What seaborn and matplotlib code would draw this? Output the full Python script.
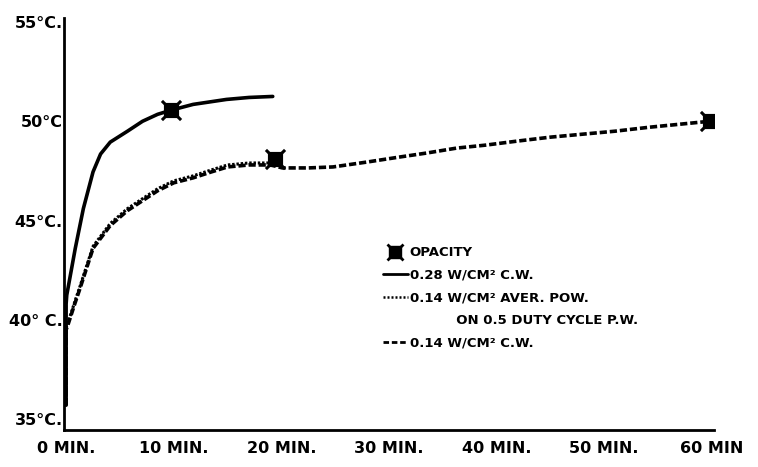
import numpy as np
import pandas as pd
import matplotlib
matplotlib.use("Agg")
import matplotlib.pyplot as plt
import seaborn as sns
from matplotlib.lines import Line2D

# curve readings (minutes, deg C)
t_cw028 = [0, 0, 0.06, 0.85, 1.6, 2.5, 3.2, 4.1, 5.7, 7.1, 8.5, 9.7, 11.8, 14.9, 17.0, 19.2]
T_cw028 = [35.7, 40.8, 41.25, 43.6, 45.6, 47.45, 48.35, 48.95, 49.5, 50.0, 50.35, 50.55,
           50.85, 51.1, 51.2, 51.25]

t_pw014 = [0, 0, 0.2, 0.8, 1.3, 2.5, 4.1, 5.7, 7.1, 8.5, 10.0, 11.8, 13.5, 15.0, 17.0, 19.4]
T_pw014 = [35.7, 39.6, 39.9, 40.9, 41.7, 43.7, 44.85, 45.6, 46.1, 46.6, 47.0, 47.25,
           47.55, 47.8, 47.9, 47.9]

t_cw014 = [0, 0, 0.2, 0.8, 1.3, 2.5, 4.1, 5.7, 7.1, 8.5, 10.0, 11.8, 13.5, 15.0, 17.0,
           19.0, 20.1, 22.5, 24.8, 28.0, 31.0, 33.5, 36.3, 39.0, 41.9, 45.0, 48.0, 51.0,
           54.2, 57.0, 59.8]
T_cw014 = [35.7, 39.5, 39.8, 40.8, 41.6, 43.6, 44.75, 45.5, 46.0, 46.5, 46.9, 47.15,
           47.45, 47.7, 47.8, 47.8, 47.65, 47.65, 47.7, 47.95, 48.2, 48.4, 48.65, 48.8,
           49.0, 49.2, 49.35, 49.5, 49.7, 49.85, 50.0]

opacity_t = [9.7, 19.4, 59.8]
opacity_T = [50.55, 48.1, 50.0]

x_ticks = [0, 10, 20, 30, 40, 50, 60]
x_labels = ["0 MIN.", "10 MIN.", "20 MIN.", "30 MIN.", "40 MIN.", "50 MIN.", "60 MIN"]
y_ticks = [35, 40, 45, 50, 55]
y_labels = ["35°C.", "40° C.", "45°C.", "50°C", "55°C."]

sns.set_style("white")
plt.rcParams["font.family"] = ["DejaVu Sans"]
plt.rcParams["font.weight"] = "bold"
plt.rcParams["text.color"] = "black"
plt.rcParams["xtick.color"] = "black"
plt.rcParams["ytick.color"] = "black"
plt.rcParams["lines.solid_joinstyle"] = "round"
plt.rcParams["lines.dash_joinstyle"] = "round"

fig = plt.figure(figsize=(7.58, 4.67), dpi=100)
ax = fig.add_axes([0.0844, 0.0792, 0.8575, 0.8822])

cw028 = pd.DataFrame({"t": t_cw028, "T": T_cw028})
pw014 = pd.DataFrame({"t": t_pw014, "T": T_pw014})
cw014 = pd.DataFrame({"t": t_cw014, "T": T_cw014})
opac = pd.DataFrame({"t": opacity_t, "T": opacity_T})

sns.lineplot(data=cw028, x="t", y="T", ax=ax, estimator=None, sort=False,
             color="black", lw=2.6, solid_capstyle="round")
sns.lineplot(data=cw014, x="t", y="T", ax=ax, estimator=None, sort=False,
             color="black", lw=2.6, linestyle=(0, (2.0, 0.8)))
sns.lineplot(data=pw014, x="t", y="T", ax=ax, estimator=None, sort=False,
             color="black", lw=2.2, linestyle=(0, (0.8, 0.6)))
sns.scatterplot(data=opac, x="t", y="T", ax=ax, marker="s", s=110,
                color="black", edgecolor="black", zorder=5)
sns.scatterplot(data=opac, x="t", y="T", ax=ax, marker="x", s=190,
                color="black", linewidth=2.2, zorder=5)

ax.set_xlim(-0.2, 60.2)
ax.set_ylim(34.45, 55.2)
ax.set_xticks(x_ticks)
ax.set_xticklabels(x_labels, fontsize=11.5, fontweight="bold")
ax.set_yticks(y_ticks)
ax.set_yticklabels(y_labels, fontsize=11.5, fontweight="bold")
ax.tick_params(axis="x", direction="out", length=5, width=1.8, pad=3)
ax.tick_params(axis="y", length=0, pad=1)
ax.set_xlabel("")
ax.set_ylabel("")
for side in ["top", "right"]:
    ax.spines[side].set_visible(False)
for side in ["left", "bottom"]:
    ax.spines[side].set_linewidth(2.0)
    ax.spines[side].set_color("black")

h_op = (Line2D([], [], marker="s", ms=9, color="black", ls="none"),
        Line2D([], [], marker="x", ms=12, mew=2, color="black", ls="none"))
h_028 = Line2D([], [], color="black", lw=2)
h_pw = Line2D([], [], color="black", lw=1.8, ls=(0, (0.8, 0.8)))
h_blank = Line2D([], [], color="none", lw=0)
h_014 = Line2D([], [], color="black", lw=2, ls=(0, (2.0, 1.0)))
ax.legend([h_op, h_028, h_pw, h_blank, h_014],
          ["OPACITY", "0.28 W/CM² C.W.", "0.14 W/CM² AVER. POW.",
           "          ON 0.5 DUTY CYCLE P.W.", "0.14 W/CM² C.W."],
          loc="upper left", bbox_to_anchor=(0.472, 0.475), frameon=False,
          handlelength=1.9, handletextpad=0.15, labelspacing=0.72,
          prop={"size": 9.5, "weight": "bold"})

fig.savefig("out.png", dpi=100)
